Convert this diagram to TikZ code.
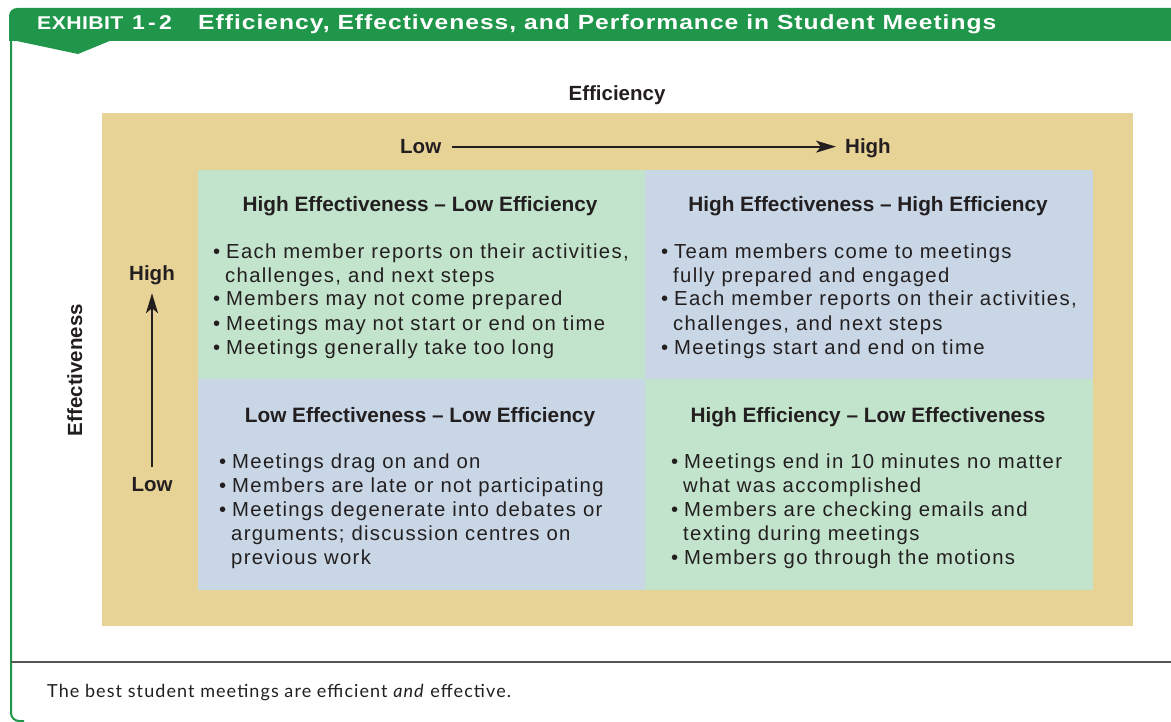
\documentclass[tikz,border=0pt]{standalone}
\usepackage{fontspec}
\setmainfont{Liberation Sans}
\newfontfamily\bodyfont[LetterSpace=6.5]{Liberation Sans}
\newfontfamily\tagfont[FakeStretch=1.15, LetterSpace=2]{Liberation Sans}
\newfontfamily\headfont[FakeStretch=1.2, LetterSpace=5]{Liberation Sans}
\newfontfamily\numfont[FakeStretch=1.15, LetterSpace=16]{Liberation Sans}
\newfontfamily\capfont[LetterSpace=6]{Lato}
\usetikzlibrary{arrows.meta}
\definecolor{exgreen}{RGB}{31,150,74}
\definecolor{sand}{RGB}{232,211,150}
\definecolor{mint}{RGB}{195,228,204}
\definecolor{steel}{RGB}{200,214,229}
\definecolor{ink}{RGB}{35,31,32}
\definecolor{rule}{RGB}{85,85,85}
\newcommand\bl{\makebox[13pt][l]{\textbullet}}
\newcommand\ct{\hspace*{12pt}}
\tikzset{
  qhead/.style={font=\fontsize{20.8}{24}\selectfont\bfseries, text=ink, inner sep=0pt, anchor=base},
  qbody/.style={font=\bodyfont\fontsize{20.3}{24}\selectfont, text=ink, inner sep=0pt, align=left, anchor=base west},
  axislabel/.style={font=\fontsize{20.5}{24}\selectfont\bfseries, text=ink, inner sep=0pt, text height=14.7pt, text depth=0pt},
  axisarrow/.style={draw=ink, line width=2pt, -{Stealth[length=20pt, width=12pt, inset=5pt]}},
  bartext/.style={text=white, inner sep=0pt, anchor=base west},
}
\begin{document}
\begin{tikzpicture}[x=1pt, y=-1pt]
\useasboundingbox (0,0) rectangle (1171,722);
\fill[white] (0,0) rectangle (1171,722);

% title bar with its tab and the left frame line
\fill[exgreen] (9,41) [rounded corners=8pt] -- (9,8) [sharp corners] -- (1171,8) -- (1171,41) -- cycle;
\fill[exgreen] (12,40) -- (112,40) -- (78,54) -- cycle;
\draw[exgreen, line width=2pt] (11,40) [rounded corners=8pt] -- (11,721) [sharp corners] -- (24,721);
\node[bartext, font=\tagfont\fontsize{18.5}{22}\selectfont\bfseries] (exlabel) at (37,29.5) {EXHIBIT};
\node[bartext, font=\numfont\fontsize{20}{22}\selectfont\bfseries] (exnum) at (132,29.5) {1-2};
\node[bartext, font=\headfont\fontsize{20.5}{22}\selectfont\bfseries] (extitle) at (198,30) {Efficiency, Effectiveness, and Performance in Student Meetings};

% matrix background and quadrants
\fill[sand] (102,113) rectangle (1133,626);
\fill[mint] (198,170) rectangle (645,379);
\fill[steel] (645,170) rectangle (1093,379);
\fill[steel] (198,379) rectangle (645,590);
\fill[mint] (645,379) rectangle (1093,590);

% axes
\node[font=\fontsize{20.5}{24}\selectfont\bfseries, text=ink, inner sep=0pt, anchor=base] (xtitle) at (617,101) {Efficiency};
\node[axislabel, anchor=base west] (lowx) at (400,154) {Low};
\node[axislabel, anchor=base west] (highx) at (845,154) {High};
\draw[axisarrow] ([xshift=11pt]lowx.east) -- ([xshift=-9pt]highx.west);

\node[axislabel, anchor=base] (highy) at (152,281) {High};
\node[axislabel, anchor=base] (lowy) at (152,491) {Low};
\draw[axisarrow] ([yshift=9pt]lowy.north) -- ([yshift=-12pt]highy.south);
\node[font=\fontsize{20.5}{24}\selectfont\bfseries, text=ink, inner sep=0pt, rotate=90, anchor=base] (ytitle) at (82,370) {Effectiveness};

% quadrant headings
\node[qhead] (tlh) at (420,212) {High Effectiveness -- Low Efficiency};
\node[qhead] (trh) at (868,212) {High Effectiveness -- High Efficiency};
\node[qhead] (blh) at (420,422) {Low Effectiveness -- Low Efficiency};
\node[qhead] (brh) at (868,422) {High Efficiency -- Low Effectiveness};

% quadrant bullet lists (anchored on the baseline of their last line)
\node[qbody] (tlb) at (213,354) {\bl Each member reports on their activities,\\
\ct challenges, and next steps\\
\bl Members may not come prepared\\
\bl Meetings may not start or end on time\\
\bl Meetings generally take too long};
\node[qbody] (trb) at (661,354) {\bl Team members come to meetings\\
\ct fully prepared and engaged\\
\bl Each member reports on their activities,\\
\ct challenges, and next steps\\
\bl Meetings start and end on time};
\node[qbody] (blb) at (219,564) {\bl Meetings drag on and on\\
\bl Members are late or not participating\\
\bl Meetings degenerate into debates or\\
\ct arguments; discussion centres on\\
\ct previous work};
\node[qbody] (brb) at (671,564) {\bl Meetings end in 10 minutes no matter\\
\ct what was accomplished\\
\bl Members are checking emails and\\
\ct texting during meetings\\
\bl Members go through the motions};

% footer rule and caption
\draw[rule, line width=2pt] (11,662) -- (1171,662);
\node[font=\capfont\fontsize{18}{20}\selectfont, text=ink, inner sep=0pt, anchor=base west] (caption) at (47,697) {The best student meetings are efficient \textit{and} effective.};
\end{tikzpicture}
\end{document}
